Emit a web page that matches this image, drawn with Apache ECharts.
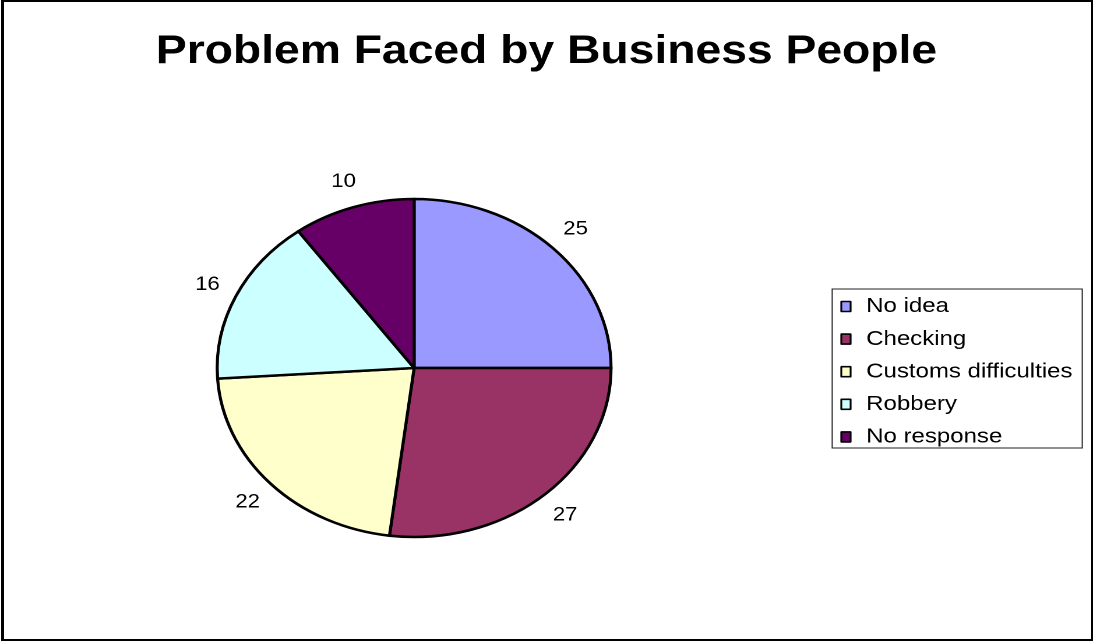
<!DOCTYPE html>
<html><head><meta charset="utf-8">
<script src="https://cdn.jsdelivr.net/npm/echarts@6/dist/echarts.min.js"></script>
<style>
html,body{margin:0;padding:0;background:#fff;}
#wrap{position:relative;width:1093px;height:641px;overflow:hidden;background:#fff;}
#chart{position:absolute;left:0;top:0;width:938px;height:641px;transform:scaleX(1.1652);transform-origin:0 0;}
#frame{position:absolute;left:1px;top:0;width:1092px;height:641px;box-sizing:border-box;border:2px solid #000;border-left-width:3px;pointer-events:none;}
</style></head>
<body><div id="wrap"><div id="chart"></div><div id="frame"></div></div>
<script>
const titleText = 'Problem Faced by Business People';
const categories = ['No idea', 'Checking', 'Customs difficulties', 'Robbery', 'No response'];
const values = [25, 27, 22, 16, 10];
const colors = ['#9999FF', '#993366', '#FFFFCC', '#CCFFFF', '#660066'];

const FONT = "'Liberation Sans', Arial, sans-serif";
const chart = echarts.init(document.getElementById('chart'), null, {renderer: 'canvas', devicePixelRatio: 2});

const option = {
  backgroundColor: 'transparent',
  animation: false,
  title: {
    text: titleText,
    left: 'center',
    top: 32,
    padding: [0, 0, 0, 12],
    textStyle: {fontFamily: FONT, fontWeight: 'bold', fontSize: 39.7, color: '#000', lineHeight: 40}
  },
  graphic: [{
    type: 'rect',
    shape: {x: 714.2, y: 289, width: 214.6, height: 159},
    style: {fill: '#fff', stroke: '#222', lineWidth: 1},
    z: -1
  }],
  legend: {
    orient: 'vertical',
    left: 721.2,
    top: 296,
    padding: 0,
    itemWidth: 24.8,
    itemHeight: 10,
    itemGap: 11.6,
    symbolKeepAspect: true,
    textStyle: {fontFamily: FONT, fontSize: 20.6, color: '#000', lineHeight: 20},
    data: categories.map((c, i) => ({
      name: c,
      icon: 'path://M0,0h8v10h-8z',
      itemStyle: {color: colors[i], borderColor: '#000', borderWidth: 1.6}
    }))
  },
  series: [{
    type: 'pie',
    center: [355.4, 368],
    radius: 169,
    startAngle: 90,
    clockwise: true,
    avoidLabelOverlap: false,
    label: {
      show: true,
      position: 'outside',
      alignTo: 'none',
      distanceToLabelLine: 0,
      formatter: '{c}',
      fontFamily: FONT,
      fontSize: 19,
      color: '#000'
    },
    labelLine: {show: false, length: 27, length2: 0},
    labelLayout: {align: 'center', verticalAlign: 'middle'},
    itemStyle: {borderColor: '#000', borderWidth: 2.6},
    emphasis: {disabled: true},
    data: categories.map((c, i) => ({name: c, value: values[i], itemStyle: {color: colors[i]}}))
  }]
};
chart.setOption(option);
</script>
</body></html>
